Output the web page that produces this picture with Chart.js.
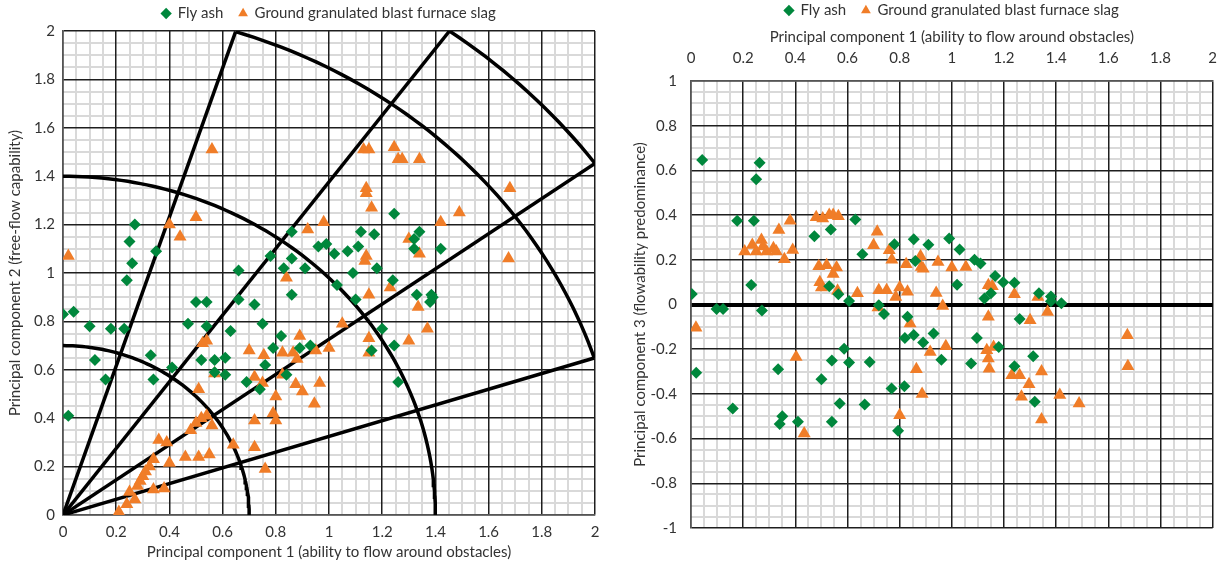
<!DOCTYPE html>
<html lang="en">
<head>
<meta charset="UTF-8">
<title>Principal component plots</title>
<script src="https://cdn.jsdelivr.net/npm/chart.js"></script>
<style>
  body { margin: 0; background: #ffffff; }
  .chart-box { position: absolute; top: 0; height: 565px; }
  #leftBox { left: 0; width: 615px; }
  #rightBox { left: 615px; width: 616px; }
</style>
</head>
<body>
<div class="chart-box" id="leftBox"><canvas id="pc12"></canvas></div>
<div class="chart-box" id="rightBox"><canvas id="pc13"></canvas></div>
<script>
// PC1 vs PC2 (left chart)
const flyAshLeftPC1 = [0.00,0.04,0.10,0.18,0.23,0.24,0.12,0.16,0.02,0.33,0.34,0.41,0.47,0.50,0.54,0.54,0.52,0.57,0.61,0.57,0.61,0.63,0.66,0.66,0.72,0.75,0.69,0.74,0.76,0.82,0.79,0.84,0.86,0.83,0.91,0.89,0.93,0.27,0.25,0.26,0.35,0.78,0.86,0.86,0.96,0.99,1.02,1.07,1.11,1.12,1.17,1.245,1.34,1.32,1.32,1.42,1.09,1.18,1.24,1.03,1.10,1.33,1.385,1.38,1.39,1.20,1.245,1.16,1.26];
const flyAshLeftPC2 = [0.83,0.84,0.78,0.77,0.77,0.97,0.64,0.56,0.41,0.66,0.56,0.61,0.79,0.88,0.88,0.78,0.64,0.64,0.65,0.59,0.58,0.76,0.89,1.01,0.87,0.79,0.55,0.52,0.62,0.74,0.69,0.58,0.91,1.02,1.02,0.69,0.70,1.20,1.13,1.04,1.09,1.07,1.17,1.06,1.11,1.12,1.08,1.09,1.11,1.17,1.16,1.245,1.17,1.14,1.10,1.10,1.00,1.02,0.97,0.95,0.89,0.91,0.91,0.88,0.90,0.77,0.70,0.68,0.55];
const slagLeftPC1 = [0.02,0.56,0.40,0.44,0.50,0.92,0.98,0.84,1.13,1.15,1.245,1.26,1.275,1.34,1.14,1.14,1.16,1.68,1.49,1.42,1.30,1.34,1.14,1.135,1.675,1.23,1.15,1.335,1.37,1.30,1.15,1.15,1.05,1.00,0.95,0.965,0.945,0.90,0.525,0.54,0.57,0.51,0.70,0.755,0.825,0.865,0.88,0.89,0.72,0.75,0.825,0.875,0.80,0.79,0.80,0.72,0.72,0.76,0.64,0.52,0.54,0.48,0.50,0.56,0.46,0.51,0.55,0.36,0.39,0.40,0.34,0.325,0.31,0.30,0.29,0.28,0.34,0.38,0.25,0.27,0.24,0.21];
const slagLeftPC2 = [1.07,1.51,1.20,1.15,1.23,1.18,1.21,0.98,1.51,1.51,1.52,1.47,1.47,1.47,1.35,1.33,1.27,1.35,1.25,1.21,1.14,1.08,1.07,1.05,1.06,0.94,0.91,0.86,0.77,0.72,0.73,0.67,0.79,0.69,0.68,0.545,0.46,0.51,0.71,0.72,0.585,0.52,0.68,0.66,0.67,0.67,0.645,0.74,0.57,0.545,0.58,0.54,0.49,0.42,0.39,0.39,0.28,0.19,0.29,0.40,0.41,0.35,0.38,0.37,0.24,0.24,0.25,0.31,0.30,0.215,0.23,0.20,0.18,0.16,0.14,0.12,0.105,0.11,0.095,0.064,0.044,0.012];

// PC1 vs PC3 (right chart)
const flyAshRightPC1 = [0.043,0.263,0.25,0.177,0.241,0.231,0.003,0.473,0.536,0.63,0.657,0.78,0.854,0.91,0.99,1.03,1.087,1.11,0.86,1.02,1.166,1.197,1.24,1.15,1.125,0.53,0.565,0.606,0.74,0.72,0.83,0.93,0.82,0.854,0.89,1.096,1.26,0.587,0.098,0.123,0.272,0.02,0.16,0.334,0.35,0.34,0.41,0.50,0.54,0.606,0.54,0.57,0.666,0.685,0.769,0.818,0.794,0.96,1.074,1.18,1.312,1.24,1.318,1.334,1.38,1.38,1.42];
const flyAshRightPC3 = [0.646,0.634,0.56,0.375,0.375,0.087,0.047,0.305,0.336,0.38,0.225,0.27,0.292,0.267,0.295,0.246,0.20,0.183,0.195,0.088,0.127,0.10,0.097,0.05,0.027,0.082,0.046,0.016,-0.043,-0.003,-0.055,-0.13,-0.15,-0.137,-0.17,-0.15,-0.065,-0.198,-0.02,-0.02,-0.027,-0.305,-0.465,-0.29,-0.50,-0.535,-0.525,-0.334,-0.25,-0.26,-0.525,-0.443,-0.447,-0.257,-0.376,-0.366,-0.565,-0.247,-0.264,-0.19,-0.232,-0.276,-0.435,0.05,0.036,0.015,0.006];
const slagRightPC1 = [0.019,0.38,0.337,0.206,0.235,0.27,0.276,0.25,0.29,0.316,0.327,0.358,0.39,0.48,0.505,0.53,0.545,0.565,0.714,0.70,0.76,0.77,0.825,0.88,0.883,0.89,0.947,1.0,1.054,0.49,0.52,0.558,0.545,0.494,0.50,0.562,0.638,0.72,0.75,0.80,0.83,0.785,0.717,0.94,0.965,0.84,1.14,1.155,1.24,1.30,1.14,1.33,1.367,1.673,1.675,0.917,0.977,1.134,1.16,1.14,1.143,1.23,1.26,1.344,1.296,1.267,1.344,1.414,1.488,0.403,0.434,0.80,0.864,0.886];
const slagRightPC3 = [-0.104,0.375,0.333,0.237,0.266,0.289,0.26,0.237,0.237,0.252,0.237,0.203,0.244,0.39,0.385,0.40,0.40,0.395,0.325,0.265,0.243,0.20,0.18,0.216,0.168,0.16,0.19,0.165,0.168,0.171,0.176,0.165,0.136,0.10,0.076,0.061,0.05,0.064,0.064,0.076,0.057,0.034,-0.013,0.052,-0.007,-0.085,0.086,0.082,0.046,-0.07,-0.055,0.033,-0.034,-0.138,-0.276,-0.213,-0.187,-0.205,-0.19,-0.242,-0.287,-0.316,-0.316,-0.30,-0.357,-0.413,-0.514,-0.405,-0.443,-0.235,-0.577,-0.495,-0.29,-0.40];

// zone guides on the left chart (radius in PC units, angle in degrees)
const ringRadii = [0.7, 1.4];
const outerRadius = 2.1;
const capRadius = 2.472;
const rayAngles = [18, 36, 54, 72];

const seriesNames = ['Fly ash', 'Ground granulated blast furnace slag'];
const xTitle = 'Principal component 1 (ability to flow around obstacles)';

const GREEN = '#00873c';
const ORANGE = '#f07d28';
const FONT = 'Lato';
const TEXT = '#333333';

function zip(xs, ys) {
    return xs.map((x, i) => ({ x: x, y: ys[i] }));
}

function arc(r, fromDeg, toDeg) {
    let pts = [];
    for (let a = fromDeg; a <= toDeg + 0.001; a += 1) {
        const t = a * Math.PI / 180;
        pts.push({ x: r * Math.cos(t), y: r * Math.sin(t) });
    }
    return pts;
}

function isMajor(v) {
    return Math.abs(v / 0.2 - Math.round(v / 0.2)) < 1e-6;
}

// major axis: labels + dark grid every 0.2
function majorAxis(min, max, pad, boldZero) {
    return {
        type: 'linear',
        min: min, max: max,
        grid: {
            drawTicks: false,
            z: -1,
            color: c => (boldZero && c.tick && Math.abs(c.tick.value) < 1e-9) ? '#000000' : '#1e1e1e',
            lineWidth: c => (boldZero && c.tick && Math.abs(c.tick.value) < 1e-9) ? 4 : 1.5
        },
        border: { color: '#555555', width: 1.5 },
        ticks: {
            stepSize: 0.2,
            autoSkip: false,
            maxRotation: 0,
            padding: pad,
            color: TEXT,
            font: { family: FONT, size: 15 },
            callback: v => String(Math.round(v * 10) / 10)
        }
    };
}

// minor axis: only light grid every 0.05, drawn under the major one
function minorAxis(axis, position, min, max) {
    return {
        type: 'linear',
        axis: axis,
        position: position,
        min: min, max: max,
        grid: {
            drawTicks: false,
            z: -2,
            color: c => (c.tick && isMajor(c.tick.value)) ? 'rgba(0,0,0,0)' : '#d9d9d9',
            lineWidth: 2
        },
        border: { display: false },
        ticks: { display: false, stepSize: 0.05, autoSkip: false, maxTicksLimit: 100 },
        afterFit: s => { if (axis === 'x') s.height = 0; else s.width = 0; }
    };
}

function axisTitle(text, pad) {
    return { display: true, text: text, color: TEXT, font: { family: FONT, size: 15 }, padding: pad };
}

function pointSets(fx, fy, sx, sy) {
    return [
        {
            label: seriesNames[0],
            data: zip(fx, fy),
            pointStyle: 'rectRot',
            pointRadius: 6,
            pointHoverRadius: 6,
            backgroundColor: GREEN,
            borderColor: GREEN,
            borderWidth: 0
        },
        {
            label: seriesNames[1],
            data: zip(sx, sy),
            pointStyle: 'triangle',
            pointRadius: 7.5,
            pointHoverRadius: 7.5,
            backgroundColor: ORANGE,
            borderColor: ORANGE,
            borderWidth: 0
        }
    ];
}

function guide(points) {
    return {
        label: 'guide',
        data: points,
        showLine: true,
        pointRadius: 0,
        borderColor: '#000000',
        borderWidth: 3.5,
        fill: false,
        tension: 0,
        order: 5
    };
}

// build the guide lines of the left chart
let guides = [];
ringRadii.forEach(r => guides.push(guide(arc(r, 0, 90))));
guides.push(guide(arc(outerRadius, rayAngles[0], rayAngles[3])));
guides.push(guide(arc(capRadius, rayAngles[1], rayAngles[2])));
rayAngles.forEach(a => {
    const r = (a === 36 || a === 54) ? capRadius : outerRadius;
    guides.push(guide([{ x: 0, y: 0 }, arc(r, a, a)[0]]));
});

const legendOpts = {
    display: true,
    position: 'top',
    fullSize: false,
    labels: {
        usePointStyle: true,
        boxWidth: 8,
        boxHeight: 8,
        padding: 8,
        color: TEXT,
        font: { family: FONT, size: 15 },
        filter: item => item.datasetIndex < 2,
        generateLabels: chart => {
            const items = Chart.defaults.plugins.legend.labels.generateLabels(chart);
            items.forEach(it => { if (it.datasetIndex === 0) it.text = it.text + '  '; });
            return items;
        }
    }
};

let leftX = majorAxis(0, 2, 8, false);
leftX.title = axisTitle(xTitle, { top: 0, bottom: 4 });
leftX.afterFit = s => { s.height = 50; };
let leftY = majorAxis(0, 2, 8, false);
leftY.title = axisTitle('Principal component 2 (free-flow capability)', { top: 6, bottom: 0 });
leftY.afterFit = s => { s.width = 63; };

new Chart(document.getElementById('pc12'), {
    type: 'scatter',
    data: {
        datasets: pointSets(flyAshLeftPC1, flyAshLeftPC2, slagLeftPC1, slagLeftPC2).concat(guides)
    },
    options: {
        responsive: true,
        maintainAspectRatio: false,
        animation: false,
        layout: { padding: { left: 0, right: 20, top: -2, bottom: 0 } },
        plugins: { legend: legendOpts, tooltip: { enabled: false } },
        scales: {
            x: leftX,
            y: leftY,
            xMinor: minorAxis('x', 'bottom', 0, 2),
            yMinor: minorAxis('y', 'left', 0, 2)
        }
    }
});

let rightX = majorAxis(0, 2, 14, false);
rightX.position = 'top';
rightX.title = axisTitle(xTitle, { top: 0, bottom: 0 });
rightX.afterFit = s => { s.height = 53; };
let rightY = majorAxis(-1, 1, 14, true);
rightY.title = axisTitle('Principal component 3 (flowability predominance)', { top: 16, bottom: 0 });
rightY.afterFit = s => { s.width = 76; };

new Chart(document.getElementById('pc13'), {
    type: 'scatter',
    data: {
        datasets: pointSets(flyAshRightPC1, flyAshRightPC3, slagRightPC1, slagRightPC3)
    },
    options: {
        responsive: true,
        maintainAspectRatio: false,
        animation: false,
        layout: { padding: { left: 0, right: 16, top: -5, bottom: 37 } },
        plugins: { legend: legendOpts, tooltip: { enabled: false } },
        scales: {
            x: rightX,
            y: rightY,
            xMinor: minorAxis('x', 'top', 0, 2),
            yMinor: minorAxis('y', 'left', -1, 1)
        }
    }
});
</script>
</body>
</html>
